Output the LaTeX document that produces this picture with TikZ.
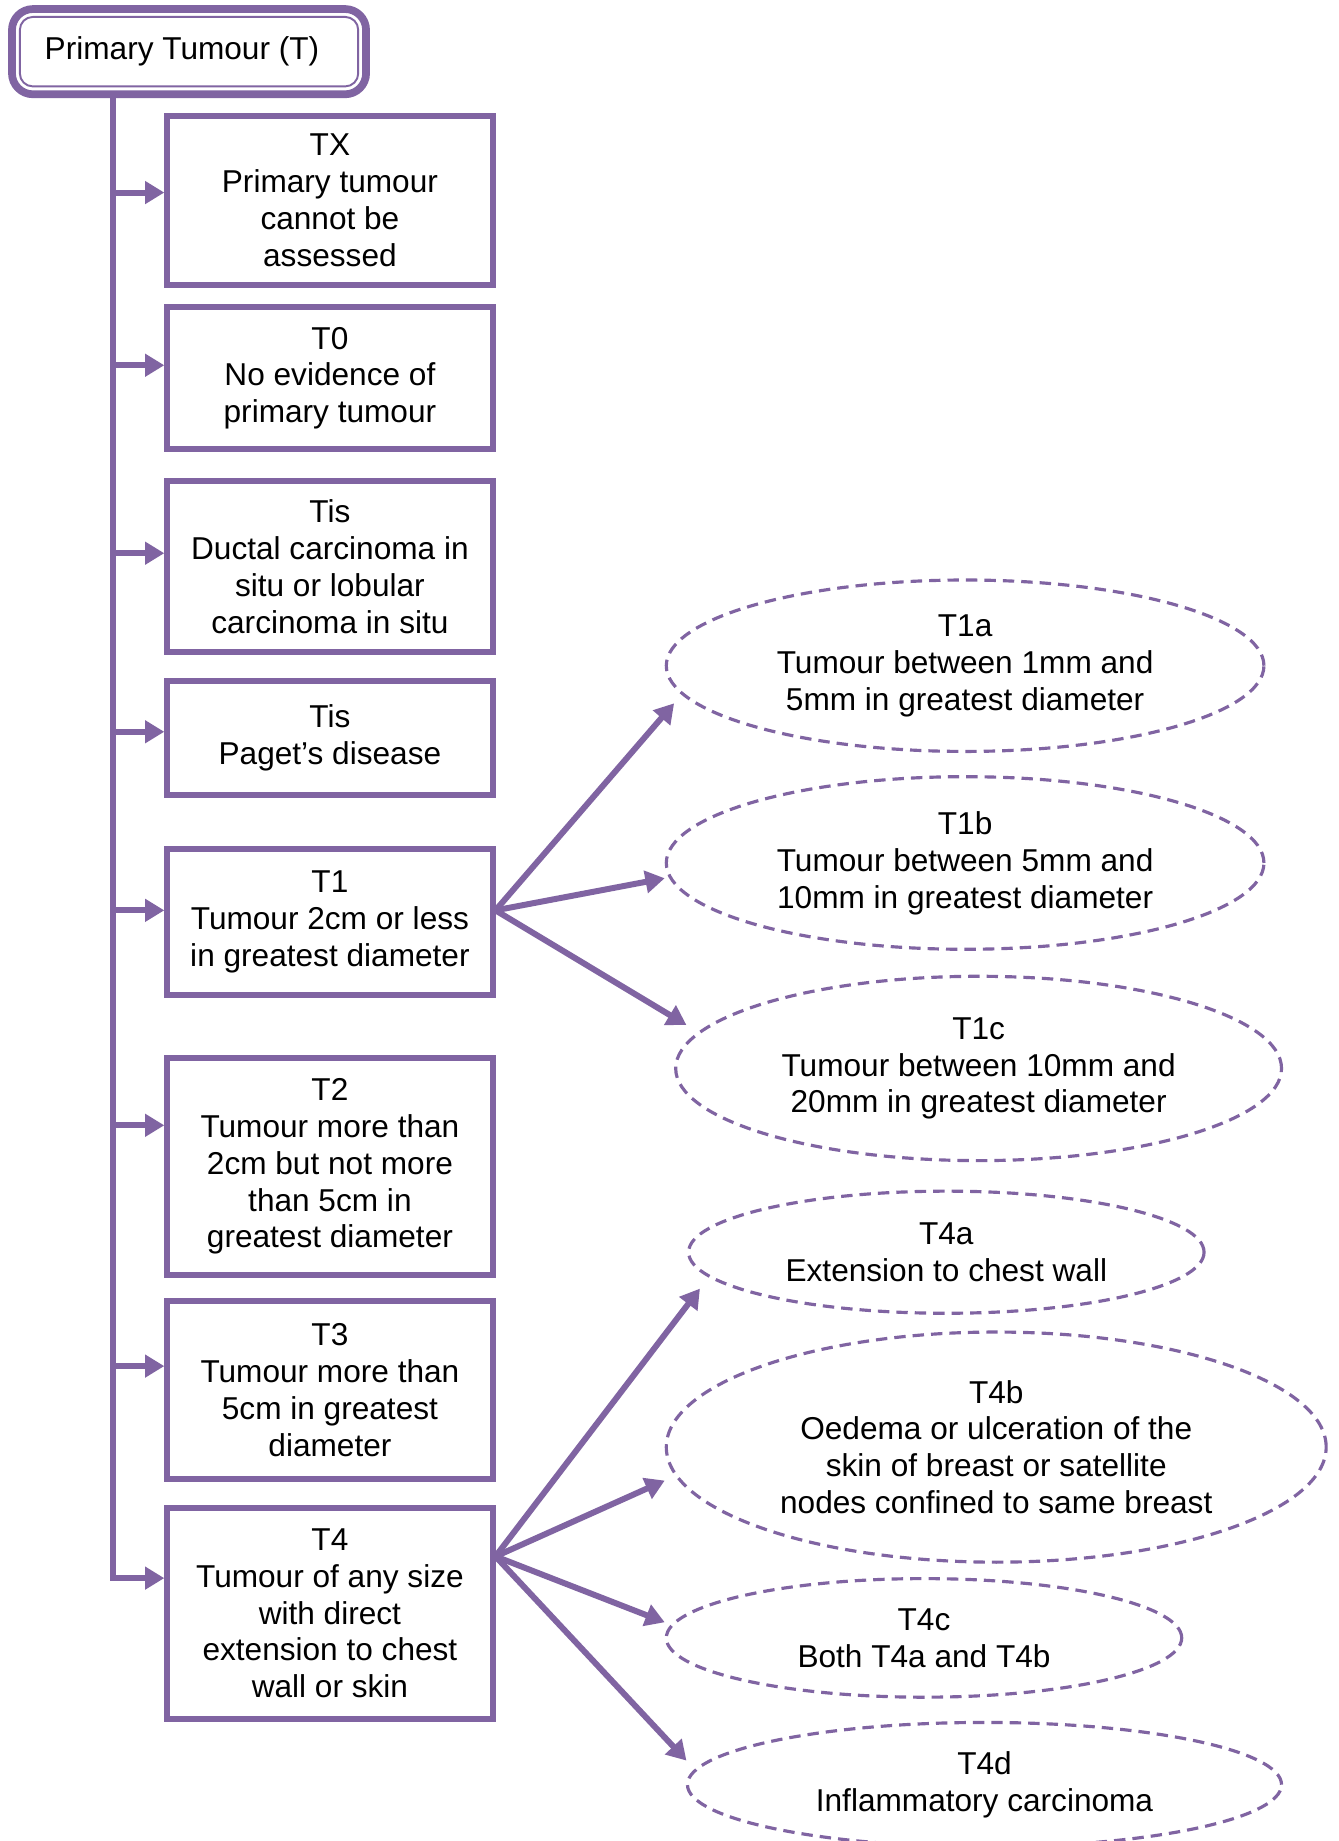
\documentclass[tikz,border=0pt]{standalone}
\usepackage{fontspec}
\setmainfont{Liberation Sans}
\usepackage{tikz}
\usetikzlibrary{shapes.geometric, arrows.meta, positioning}
\definecolor{tpurple}{HTML}{8064A2}
\newdimen\pxu
\pxu=0.0235cm

\begin{document}
\begin{tikzpicture}[
    x=0.0235cm, y=-0.0235cm,
    topbox/.style={draw=tpurple, line width=4.4pt, rounded corners=0.42cm, minimum width=301.6\pxu, minimum height=72.6\pxu, inner sep=0pt, font=\fontsize{18}{21}\selectfont},
    stage/.style={draw=tpurple, line width=3.4pt, minimum width=277\pxu, inner sep=0pt, align=center, font=\fontsize{18}{21}\selectfont},
    substage/.style={ellipse, draw=tpurple, line width=1.8pt, dash pattern=on 6.5pt off 4pt, inner sep=0pt, align=center, font=\fontsize{18}{21}\selectfont},
    branch/.style={-{Triangle[length=11pt, width=12.5pt]}, line width=3.4pt, tpurple}
]

\useasboundingbox (0,0) rectangle (1140,1568);
\clip (0,0) rectangle (1140,1568);
\fill[white] (0,0) rectangle (1140,1568);

% Header
\node[topbox] (top) at (161,44) {Primary Tumour (T)\hspace*{12\pxu}};
\draw[tpurple, line width=1.1pt, rounded corners=0.26cm] ([shift={(10,10)}]top.north west) rectangle ([shift={(-10,-10)}]top.south east);

% Stages
\node[stage, minimum height=144\pxu] (TX) at (281,170.5) {TX\\Primary tumour\\cannot be\\assessed};
\node[stage, minimum height=121\pxu, below=14\pxu of TX] (T0) {T0\\No evidence of\\primary tumour};
\node[stage, minimum height=146\pxu, below=22\pxu of T0] (Tis) {Tis\\Ductal carcinoma in\\situ or lobular\\carcinoma in situ};
\node[stage, minimum height=97\pxu, below=19\pxu of Tis] (Tpag) {Tis\\Paget’s disease};
\node[stage, minimum height=125\pxu, below=41\pxu of Tpag] (T1) {T1\\Tumour 2cm or less\\in greatest diameter};
\node[stage, minimum height=185\pxu, below=48\pxu of T1] (T2) {T2\\Tumour more than\\2cm but not more\\than 5cm in\\greatest diameter};
\node[stage, minimum height=152\pxu, below=17\pxu of T2] (T3) {T3\\Tumour more than\\5cm in greatest\\diameter};
\node[stage, minimum height=180\pxu, below=19\pxu of T3] (T4) {T4\\Tumour of any size\\with direct\\extension to chest\\wall or skin};

% Sub-stages of T1
\node[substage, minimum width=509\pxu, minimum height=146\pxu] (T1a) at (822,567) {T1a\\Tumour between 1mm and\\5mm in greatest diameter};
\node[substage, minimum width=509\pxu, minimum height=147\pxu] (T1b) at (822,735) {T1b\\Tumour between 5mm and\\10mm in greatest diameter};
\node[substage, minimum width=516\pxu, minimum height=157\pxu] (T1c) at (833.5,910) {T1c\\Tumour between 10mm and\\20mm in greatest diameter};

% Sub-stages of T4
\node[substage, minimum width=439\pxu, minimum height=104\pxu] (T4a) at (806,1066.5) {T4a\\Extension to chest wall};
\node[substage, minimum width=562\pxu, minimum height=196\pxu] (T4b) at (848.5,1232.5) {T4b\\Oedema or ulceration of the\\skin of breast or satellite\\nodes confined to same breast};
\node[substage, minimum width=439\pxu, minimum height=101\pxu] (T4c) at (787,1395) {T4c\\Both T4a and T4b};
\node[substage, minimum width=506\pxu, minimum height=106\pxu] (T4d) at (838.5,1520) {T4d\\Inflammatory carcinoma};

% Trunk
\coordinate (stem) at ([shift={(-65,0)}]top.south);
\draw[branch] (stem) |- ([shift={(0,-30)}]T4.west);

% Arrows to stages
\draw[branch] ([shift={(-44,-6.5)}]TX.west) -- ([shift={(0,-6.5)}]TX.west);
\draw[branch] ([shift={(-44,-11)}]T0.west) -- ([shift={(0,-11)}]T0.west);
\draw[branch] ([shift={(-44,-11.5)}]Tis.west) -- ([shift={(0,-11.5)}]Tis.west);
\draw[branch] ([shift={(-44,-5)}]Tpag.west) -- ([shift={(0,-5)}]Tpag.west);
\draw[branch] ([shift={(-44,-10)}]T1.west) -- ([shift={(0,-10)}]T1.west);
\draw[branch] ([shift={(-44,-35)}]T2.west) -- ([shift={(0,-35)}]T2.west);
\draw[branch] ([shift={(-44,-20.5)}]T3.west) -- ([shift={(0,-20.5)}]T3.west);

% Arrows to sub-stages
\draw[branch] ([shift={(0,-10)}]T1.east) -- ([shift={(8,32)}]T1a.west);
\draw[branch] ([shift={(0,-10)}]T1.east) -- ([shift={(0,13)}]T1b.west);
\draw[branch] ([shift={(0,-10)}]T1.east) -- ([shift={(10.5,-37)}]T1c.west);

\draw[branch] ([shift={(0,-48.5)}]T4.east) -- ([shift={(11,31)}]T4a.west);
\draw[branch] ([shift={(0,-48.5)}]T4.east) -- ([shift={(0,28.5)}]T4b.west);
\draw[branch] ([shift={(0,-48.5)}]T4.east) -- ([shift={(0,-13.3)}]T4c.west);
\draw[branch] ([shift={(0,-48.5)}]T4.east) -- ([shift={(0.5,-20.5)}]T4d.west);

\end{tikzpicture}
\end{document}
